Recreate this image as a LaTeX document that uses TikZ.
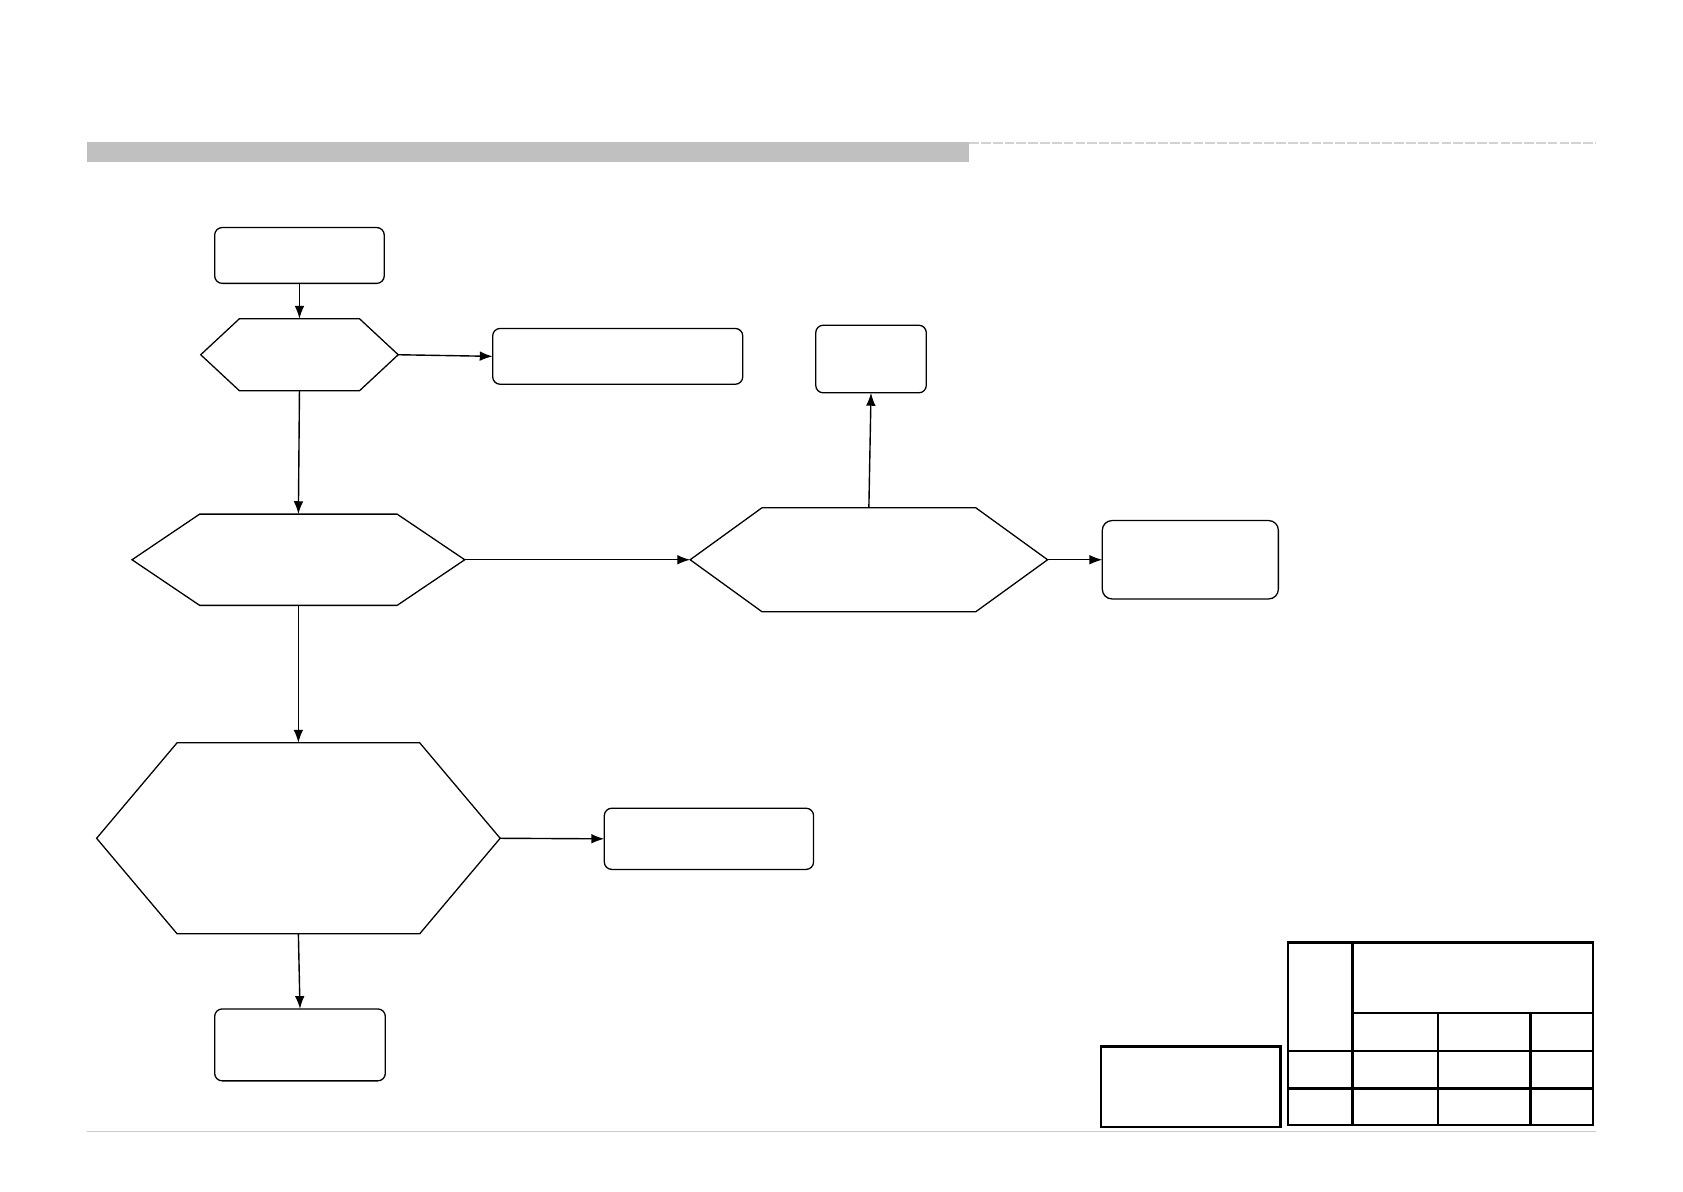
\documentclass[tikz,border=0pt]{standalone}
\usetikzlibrary{arrows.meta,calc}
\begin{document}
\begin{tikzpicture}[x=1pt,y=-1pt,
  rbox/.style={draw, rounded corners=7pt, line width=1.2pt, inner sep=0pt, outer sep=0pt},
  frame/.style={draw=none, inner sep=0pt, outer sep=0pt},
  hexline/.style={line width=1.2pt, line join=miter},
  conn/.style={-{Latex[length=12pt,width=9pt]}, line width=1.3pt},
  tblline/.style={line width=2.2pt},
  plainbox/.style={draw, line width=2.2pt, inner sep=0pt, outer sep=0pt}]
\useasboundingbox (0,0) rectangle (1568,1110);
% header band
\fill[fill={rgb,255:red,192;green,192;blue,192}] (81,132) rectangle (903,151);
\draw[gray!35, line width=1.8pt, dash pattern=on 9pt off 2pt] (903,133.5) -- (1487,133.5);
% footer line
\draw[gray!40, line width=1pt] (81,1054) -- (1487,1054);

% boxes
\node[rbox, minimum width=158pt, minimum height=52pt] (b1) at (279,238) {};
\node[rbox, minimum width=233pt, minimum height=52pt] (b2) at (575.5,332) {};
\node[rbox, minimum width=103pt, minimum height=63pt] (b3) at (811.5,334.5) {};
\node[rbox, rounded corners=9pt, minimum width=164pt, minimum height=73pt] (b4) at (1109,521.5) {};
\node[rbox, minimum width=195pt, minimum height=57pt] (b5) at (660.5,781.5) {};
\node[rbox, minimum width=159pt, minimum height=67pt] (b6) at (279.5,973.5) {};
\node[plainbox, minimum width=167pt, minimum height=75pt] (r7) at (1109.5,1012.5) {};

% hexagons
\newcommand{\hexdraw}[2]{%
  \draw[hexline] (#1.west) -- ($(#1.north west)+(#2,0)$) -- ($(#1.north east)+(-#2,0)$) -- (#1.east)
    -- ($(#1.south east)+(-#2,0)$) -- ($(#1.south west)+(#2,0)$) -- cycle;}
\node[frame, minimum width=184pt, minimum height=67pt] (h1) at (279,330.5) {};
\hexdraw{h1}{36}
\node[frame, minimum width=310pt, minimum height=85pt] (h2) at (278,521.5) {};
\hexdraw{h2}{63}
\node[frame, minimum width=333pt, minimum height=97pt] (h3) at (809.5,521.5) {};
\hexdraw{h3}{67}
\node[frame, minimum width=376pt, minimum height=178pt] (h4) at (278,781) {};
\hexdraw{h4}{75}

% connectors
\draw[conn] (b1.south) -- (h1.north);
\draw[conn] (h1.east) -- (b2.west);
\draw[conn] (h1.south) -- (h2.north);
\draw[conn] (h2.east) -- (h3.west);
\draw[conn] (h3.north) -- (b3.south);
\draw[conn] (h3.east) -- (b4.west);
\draw[conn] (h2.south) -- (h4.north);
\draw[conn] (h4.east) -- (b5.west);
\draw[conn] (h4.south) -- (b6.north);

% title block table
\node[plainbox, minimum width=284pt, minimum height=170pt] (tb) at (1342,963) {};
\draw[tblline] (1260,878) -- (1260,1048);
\draw[tblline] (1260,944) -- (1484,944);
\draw[tblline] (1200,979) -- (1484,979);
\draw[tblline] (1200,1014) -- (1484,1014);
\draw[tblline] (1340,944) -- (1340,1048);
\draw[tblline] (1426,944) -- (1426,1048);
\end{tikzpicture}
\end{document}
